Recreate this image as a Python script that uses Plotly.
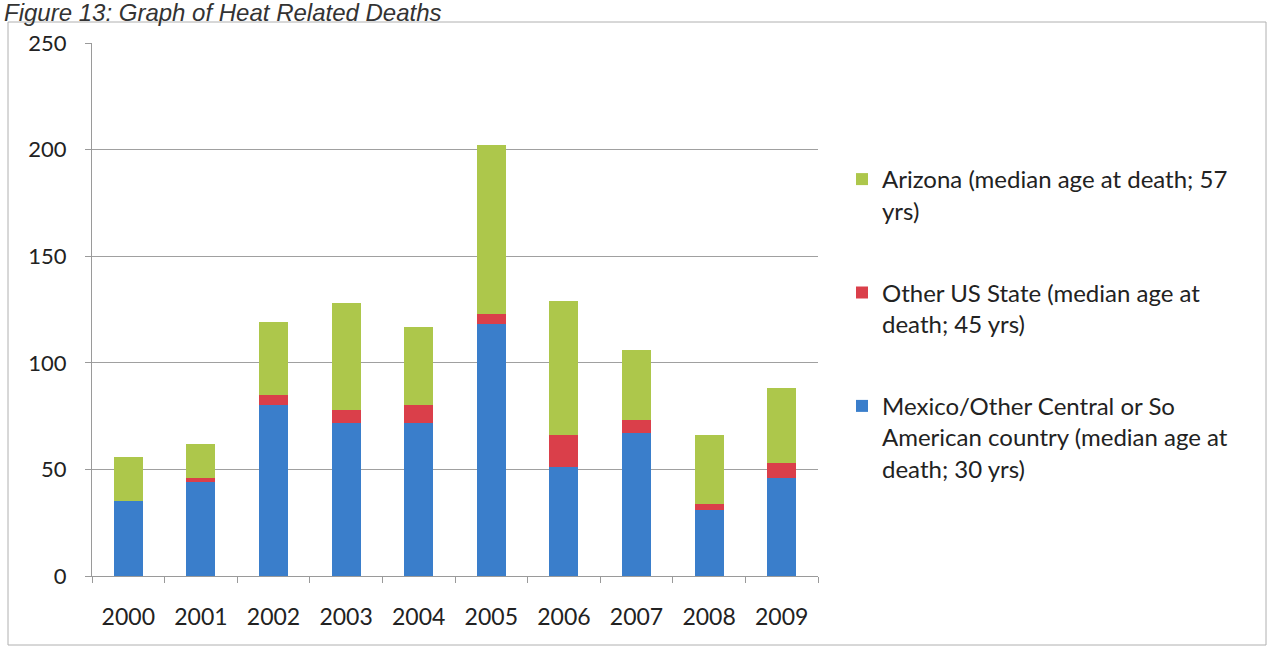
import plotly.graph_objects as go

# Heat related deaths by year, split by place of residence
years = ["2000", "2001", "2002", "2003", "2004", "2005", "2006", "2007", "2008", "2009"]
mexico_central_south = [35, 44, 80, 72, 72, 118, 51, 67, 31, 46]
other_us_state = [0, 2, 5, 6, 8, 5, 15, 6, 3, 7]
arizona = [21, 16, 34, 50, 37, 79, 63, 33, 32, 35]

y_ticks = [0, 50, 100, 150, 200, 250]

series_names = [
    "Mexico/Other Central or So<br>American country (median age at<br>death; 30 yrs)",
    "Other US State (median age at<br>death; 45 yrs)",
    "Arizona (median age at death; 57<br>yrs)",
]
series_values = [mexico_central_south, other_us_state, arizona]
series_colors = ["#3a7ecb", "#da3f4a", "#adc74b"]
legend_ranks = [3, 2, 1]

# Plot-area pixel geometry (figure is 1273 x 649)
W, H = 1273, 649
L, R, T, B = 92, 455, 43, 73
pw, ph = W - L - R, H - T - B


def px_x(x):
    return (x - L) / pw


def px_y(y):
    return (H - B - y) / ph


fig = go.Figure()
for i, (name, vals, col, rank) in enumerate(
        zip(series_names, series_values, series_colors, legend_ranks)):
    fig.add_trace(go.Bar(
        x=years, y=vals, name=name, marker_color=col,
        marker_line_width=0, width=0.4,
        legendgroup=f"g{i}", legendrank=rank,
    ))

font_family = "Lato, 'Open Sans', sans-serif"

fig.update_layout(
    width=W, height=H,
    barmode="stack",
    plot_bgcolor="white", paper_bgcolor="white",
    margin=dict(l=L, r=R, t=T, b=B),
    font=dict(family=font_family, size=20, color="#222222"),
    showlegend=True,
    legend=dict(
        x=px_x(842), y=px_y(157), xanchor="left", yanchor="top",
        traceorder="grouped", tracegroupgap=48, valign="top",
        font=dict(size=24, color="#222222"),
        itemwidth=30, bgcolor="rgba(0,0,0,0)",
    ),
    xaxis=dict(
        type="category", showgrid=False,
        showline=True, linecolor="#9a9a9a", linewidth=1,
        ticks="outside", tickson="boundaries", ticklen=6, tickcolor="#9a9a9a",
        tickfont=dict(size=23, color="#222222"),
        ticklabelstandoff=20,
    ),
    yaxis=dict(
        range=[0, 250], tickvals=y_ticks,
        showgrid=True, gridcolor="#a0a0a0", gridwidth=1,
        showline=True, linecolor="#9a9a9a", linewidth=1,
        ticks="outside", ticklen=6, tickcolor="#9a9a9a",
        tickfont=dict(size=22, color="#222222"),
        ticklabelstandoff=14, zeroline=False,
    ),
)

# Outer frame around the whole figure
fig.add_shape(
    type="rect", xref="paper", yref="paper",
    x0=px_x(8), x1=px_x(1266), y0=px_y(645), y1=px_y(22),
    line=dict(color="#b0b0b0", width=1), fillcolor="rgba(0,0,0,0)", layer="below",
)

# Figure caption
fig.add_annotation(
    text="<i>Figure 13: Graph of Heat Related Deaths</i>",
    xref="paper", yref="paper", x=px_x(2), y=px_y(-3),
    xanchor="left", yanchor="top", showarrow=False,
    font=dict(family="Liberation Sans, Arial, sans-serif", size=24, color="#333333"),
)

fig.write_html("out.html")
